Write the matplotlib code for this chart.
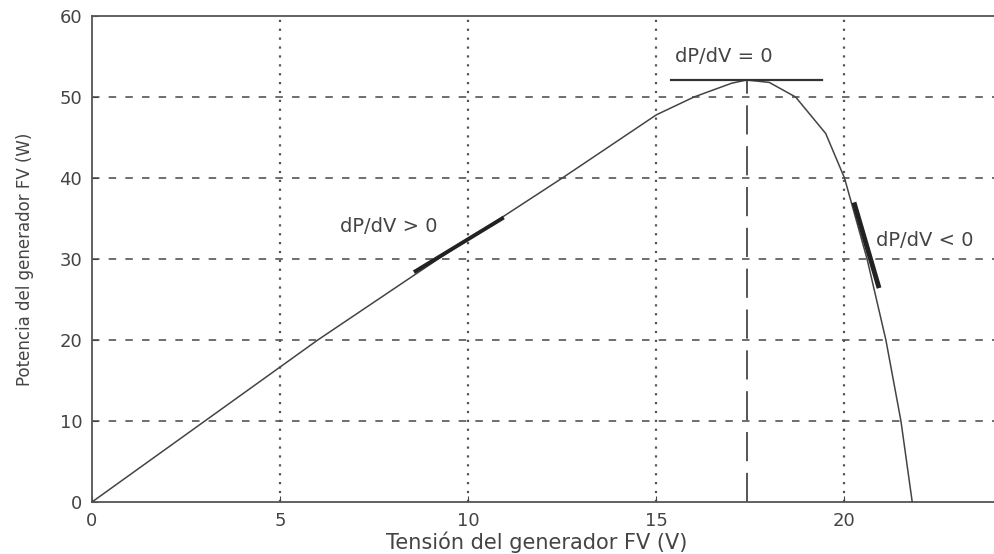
import numpy as np
import matplotlib
matplotlib.use("Agg")
import matplotlib.pyplot as plt

# P-V curve of the PV generator
tension = [0, 3, 6, 9.2, 12.5, 15, 16, 17, 17.4, 18, 18.7, 19.5, 20, 20.6, 21.1, 21.5, 21.8]
potencia = [0, 10, 20, 30, 40, 47.8, 50, 51.7, 52.1, 51.8, 50, 45.5, 40, 30, 20, 10, 0]

# maximum power point
v_mpp = 17.4
p_mpp = 52.1

# tangent segments
tan_pos_v = [8.6, 10.9]
tan_pos_p = [28.5, 35.0]
tan_cero_v = [15.4, 19.4]
tan_neg_v = [20.27, 20.9]
tan_neg_p = [36.7, 26.7]

xticks = [0, 5, 10, 15, 20]
yticks = [0, 10, 20, 30, 40, 50, 60]

GRIS = '#444444'

fig = plt.figure(figsize=(9.95, 5.54), dpi=100)
ax = fig.add_axes([92 / 995, 52 / 554, 903 / 995, 486 / 554])

# grid: dashed horizontals, dotted verticals
for y in yticks[1:-1]:
  ax.axhline(y, color='#555555', lw=1.2, ls=(0, (4.5, 5.5)), zorder=1)
for x in xticks[1:]:
  ax.axvline(x, color='#555555', lw=1.6, ls=(0, (1, 3)), zorder=1)

ax.plot(tension, potencia, color=GRIS, lw=1.1, zorder=3)

# tangents
ax.plot(tan_pos_v, tan_pos_p, color='#222222', lw=2.8, zorder=4)
ax.plot(tan_cero_v, [p_mpp, p_mpp], color='#333333', lw=1.6, zorder=4)
ax.plot(tan_neg_v, tan_neg_p, color='#222222', lw=3.5, zorder=4)
ax.plot([v_mpp, v_mpp], [0, p_mpp], color='#555555', lw=1.4, ls=(0, (15, 6)), zorder=2)

ax.text(6.6, 34, 'dP/dV > 0', fontsize=14, color=GRIS, va='center')
ax.text(15.5, 55, 'dP/dV = 0', fontsize=14, color=GRIS, va='center')
ax.text(20.85, 32.3, 'dP/dV < 0', fontsize=14, color=GRIS, va='center', clip_on=False)

ax.set_xlim(0, 24)
ax.set_ylim(0, 60)
ax.set_xticks(xticks)
ax.set_yticks(yticks)
ax.tick_params(direction='in', length=4, colors=GRIS, labelsize=13, pad=7)
for s in ax.spines.values():
  s.set_color('#555555')
  s.set_linewidth(1.3)

ax.set_xlabel('Tensión del generador FV (V)', fontsize=15, color=GRIS, va='center')
ax.xaxis.set_label_coords(0.493, -0.082)
ax.set_ylabel('Potencia del generador FV (W)', fontsize=12, color=GRIS, va='center')
ax.yaxis.set_label_coords(-0.074, 0.5)

fig.savefig('out.png', dpi=100)
